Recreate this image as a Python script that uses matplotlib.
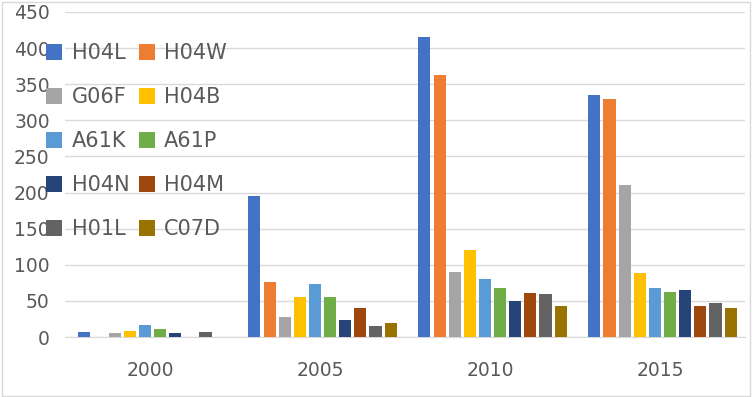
import numpy as np
import matplotlib
matplotlib.use('Agg')
import matplotlib.pyplot as plt
from matplotlib.patches import Rectangle

years = ['2000', '2005', '2010', '2015']
codes = ['H04L', 'H04W', 'G06F', 'H04B', 'A61K', 'A61P', 'H04N', 'H04M', 'H01L', 'C07D']
colors = ['#4472C4', '#ED7D31', '#A5A5A5', '#FFC000', '#5B9BD5',
          '#70AD47', '#264478', '#9E480E', '#636363', '#997300']

# values per code, one entry per year
H04L = [7, 195, 415, 335]
H04W = [0, 76, 362, 329]
G06F = [5, 28, 90, 210]
H04B = [8, 56, 120, 88]
A61K = [17, 73, 81, 68]
A61P = [11, 55, 68, 62]
H04N = [5, 23, 50, 65]
H04M = [0, 40, 61, 43]
H01L = [7, 15, 59, 47]
C07D = [0, 20, 43, 40]
series = [H04L, H04W, G06F, H04B, A61K, A61P, H04N, H04M, H01L, C07D]

plt.rcParams['font.family'] = ['DejaVu Sans']
fig = plt.figure(figsize=(7.53, 3.97), dpi=100)
ax = fig.add_axes([0.0863, 0.151, 0.903, 0.819])

x = np.arange(len(years))
group = 0.89
slot = group / len(series)
for i, (code, vals) in enumerate(zip(codes, series)):
    off = -group / 2 + slot * (i + 0.5)
    ax.bar(x + off + 0.015, vals, width=slot * 0.8, color=colors[i], label=code, zorder=3)

ax.set_xlim(-0.5, 3.5)
ax.set_ylim(0, 450)
ax.set_yticks(np.arange(0, 451, 50))
ax.set_xticks(x)
ax.set_xticklabels(years)
ax.grid(axis='y', color='#D9D9D9', linewidth=1, zorder=0)
for s in ['top', 'right', 'left']:
    ax.spines[s].set_visible(False)
ax.spines['bottom'].set_color('#D9D9D9')
ax.tick_params(axis='both', length=0, labelsize=13.5, colors='#595959')
ax.tick_params(axis='y', pad=11)
ax.tick_params(axis='x', pad=17)

# legend filled row by row like the original
handles, labels = ax.get_legend_handles_labels()
order = [0, 2, 4, 6, 8, 1, 3, 5, 7, 9]
leg = ax.legend([handles[k] for k in order], [labels[k] for k in order],
                ncol=2, loc='upper left', bbox_to_anchor=(36 / 753, 1 - 33 / 397),
                bbox_transform=fig.transFigure, frameon=False, fontsize=15,
                handlelength=0.77, handleheight=0.77, handletextpad=0.45,
                columnspacing=0.45, labelspacing=1.15, borderpad=0)
for t in leg.get_texts():
    t.set_color('#595959')

fig.patches.append(Rectangle((0.002, 0.002), 0.994, 0.994, transform=fig.transFigure,
                             fill=False, edgecolor='#D9D9D9', linewidth=1))

fig.savefig('out.png', dpi=100)
